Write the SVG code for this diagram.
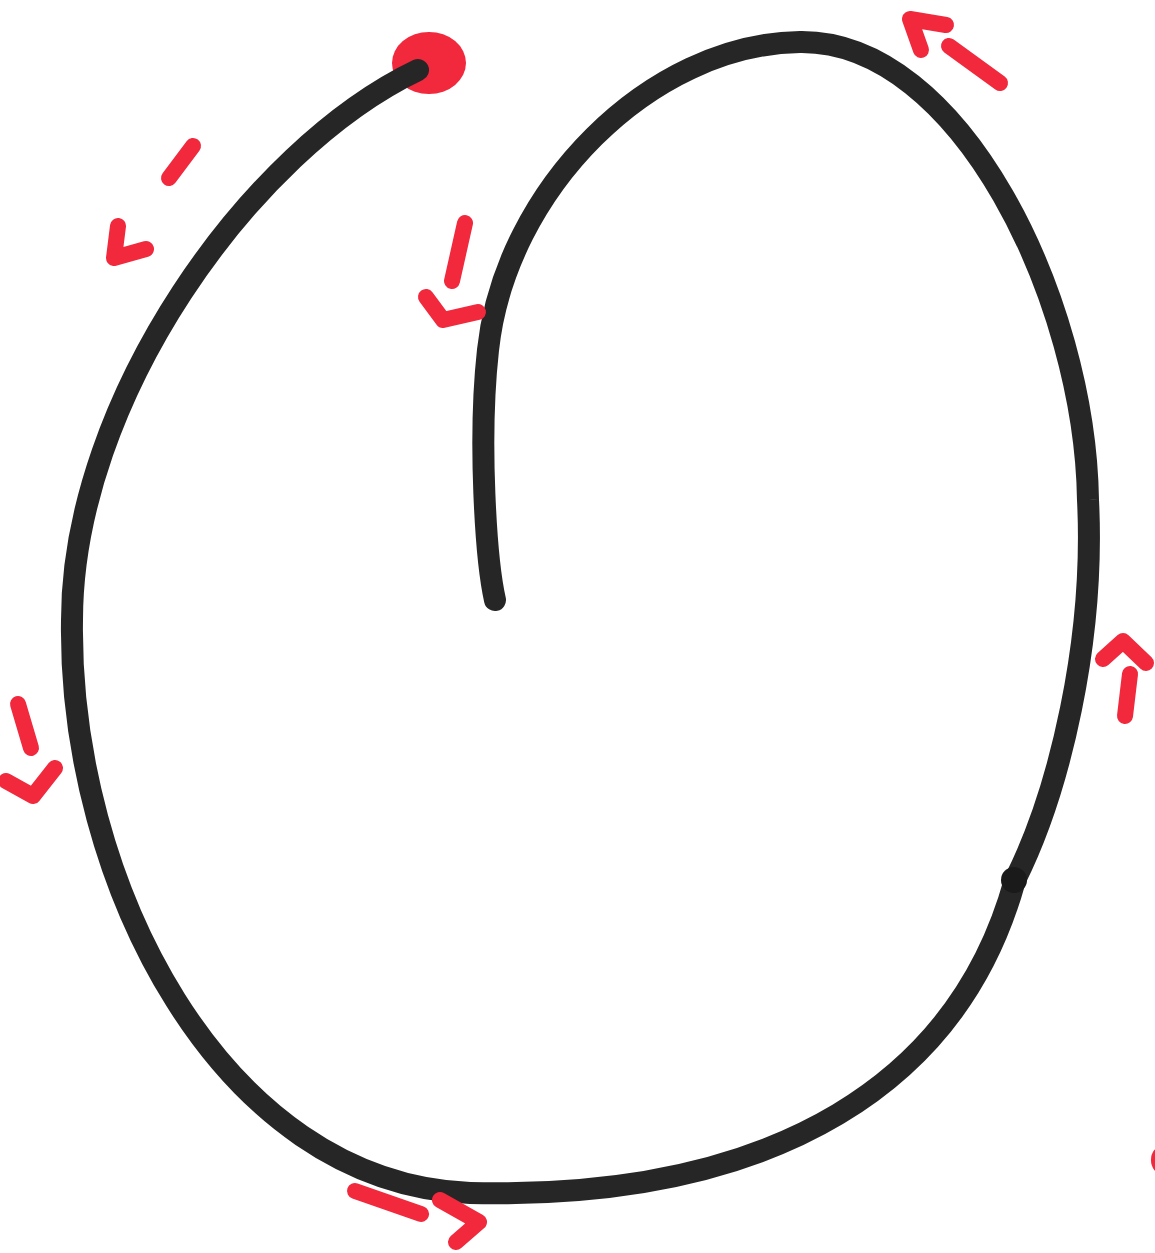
<svg xmlns="http://www.w3.org/2000/svg" width="1155" height="1253" viewBox="0 0 1155 1253">
<style>
.ink{fill:none;stroke:#262626;stroke-width:22;stroke-linecap:round;stroke-linejoin:round}
.mark{fill:none;stroke:#f2283d;stroke-width:16;stroke-linecap:round;stroke-linejoin:round}
.dot{fill:#f2283d}
</style>
<rect width="1155" height="1253" fill="#ffffff"/>
<g id="start-dot"><ellipse class="dot" cx="429" cy="63" rx="37" ry="31"/></g>
<g id="connectors">
<path id="spiral" class="ink" d="M418,70 C250,150 72,400 72,620 C68,880 220,1183 470,1193 C780,1200 960,1080 1015,880 C1060,790 1095,640 1088,500 C1085,300 960,40 800,42 C650,44 505,190 488,350 C478,440 486,560 495,600"/>
<circle cx="1014" cy="880" r="13" fill="#1a1a1a"/>
</g>
<g id="arrows">
<path class="mark" d="M193,146 L169,178"/>
<path class="mark" d="M118,226 L114,258 L146,249"/>
<path class="mark" d="M465,223 L452,281"/>
<path class="mark" d="M426,297 L443,320 L478,312"/>
<path class="mark" d="M946,25 L910,19 L921,50"/>
<path class="mark" d="M949,46 L1000,83"/>
<path class="mark" d="M18,704 L31,748"/>
<path class="mark" d="M6,781 L33,796 L55,768"/>
<path class="mark" d="M1103,659 L1123,641 L1146,663"/>
<path class="mark" d="M1130,674 L1125,716"/>
<path class="mark" d="M355,1191 L421,1214"/>
<path class="mark" d="M440,1200 L479,1222 L456,1242"/>
<ellipse class="dot" cx="1162" cy="1160" rx="11" ry="14"/>
</g>
</svg>
